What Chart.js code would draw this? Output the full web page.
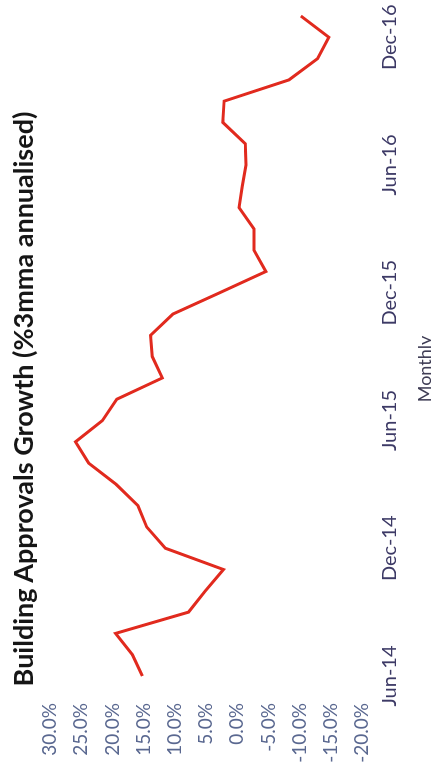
<!DOCTYPE html>
<html>
<head>
<meta charset="utf-8">
<title>Building Approvals Growth</title>
<script src="https://cdn.jsdelivr.net/npm/chart.js@4.4.1/dist/chart.umd.min.js"></script>
<style>
    html, body { margin: 0; padding: 0; background: #fff; overflow: hidden; }
    body { width: 431px; height: 781px; position: relative; }
    /* chart is laid out landscape and turned on its side */
    #wrap {
        position: absolute; left: 0; top: 0;
        width: 781px; height: 431px;
        overflow: hidden;
        transform-origin: 0 0;
        transform: translateY(781px) rotate(-90deg);
    }
    #chartTitle {
        position: absolute; left: 82px; top: 6px; width: 600px;
        text-align: center; line-height: 1.2; white-space: nowrap;
        font: bold 27px Lato, sans-serif; color: #161616;
    }
    #xTitle {
        position: absolute; left: 312px; top: 413px; width: 200px;
        text-align: center; line-height: 1;
        font: 18px Lato, sans-serif; color: #3f3d55;
    }
</style>
</head>
<body>
<div id="wrap">
    <canvas id="approvalsChart" width="781" height="431"></canvas>
    <div id="chartTitle">Building Approvals Growth (%3mma annualised)</div>
    <div id="xTitle">Monthly</div>
</div>
<script>
// 月份 (Jun-14 ~ Jan-17)
const months = [
    'Jun-14', 'Jul-14', 'Aug-14', 'Sep-14', 'Oct-14', 'Nov-14', 'Dec-14',
    'Jan-15', 'Feb-15', 'Mar-15', 'Apr-15', 'May-15', 'Jun-15', 'Jul-15',
    'Aug-15', 'Sep-15', 'Oct-15', 'Nov-15', 'Dec-15', 'Jan-16', 'Feb-16',
    'Mar-16', 'Apr-16', 'May-16', 'Jun-16', 'Jul-16', 'Aug-16', 'Sep-16',
    'Oct-16', 'Nov-16', 'Dec-16', 'Jan-17'
];

// 3个月移动平均年化增长率 (%)
const growth = [
    15.2, 16.8, 19.5, 7.8, 5.1, 2.2, 11.5,
    14.5, 15.9, 19.4, 23.8, 25.9, 21.6, 19.3,
    12.0, 13.6, 13.9, 10.3, 2.8, -4.6, -2.7,
    -2.7, -0.3, -0.8, -1.4, -1.3, 2.3, 2.1,
    -8.3, -12.9, -14.7, -10.2
];

// 横轴上显示的标签
const xTickLabels = ['Jun-14', 'Dec-14', 'Jun-15', 'Dec-15', 'Jun-16', 'Dec-16'];

// 纵轴范围
const yMin = -20;
const yMax = 30;
const yStep = 5;

function drawChart() {
    const ctx = document.getElementById('approvalsChart').getContext('2d');
    new Chart(ctx, {
        type: 'line',
        data: {
            labels: months,
            datasets: [{
                label: 'Building Approvals Growth',
                data: growth,
                borderColor: '#e12a1e',
                borderWidth: 3,
                pointRadius: 0,
                tension: 0,
                fill: false
            }]
        },
        options: {
            responsive: false,
            animation: false,
            devicePixelRatio: 1,
            layout: { padding: { left: 13, right: 13, top: 50, bottom: 0 } },
            plugins: {
                legend: { display: false },
                tooltip: { enabled: false },
                title: { display: false }
            },
            scales: {
                x: {
                    type: 'category',
                    offset: false,
                    grid: { display: false, drawTicks: false },
                    border: { display: false },
                    ticks: {
                        autoSkip: false,
                        maxRotation: 0,
                        minRotation: 0,
                        padding: 16,
                        color: '#3d3a66',
                        font: { family: 'Lato', size: 20 },
                        callback: function(value, index) {
                            const label = months[index];
                            return xTickLabels.includes(label) ? label : '';
                        }
                    },
                    afterFit: function(scale) { scale.height = 69; }
                },
                y: {
                    min: yMin,
                    max: yMax,
                    grid: { display: false, drawTicks: false },
                    border: { display: false },
                    ticks: {
                        stepSize: yStep,
                        padding: 27,
                        color: '#5a6890',
                        font: { family: 'Lato', size: 19 },
                        callback: function(value) {
                            return value.toFixed(1) + '%';
                        }
                    },
                    afterFit: function(scale) { scale.width = 92; }
                }
            }
        }
    });
}

// 等字体就绪再画
Promise.all([
    document.fonts.load('bold 27px Lato'),
    document.fonts.load('19px Lato')
]).then(drawChart, drawChart);
</script>
</body>
</html>
